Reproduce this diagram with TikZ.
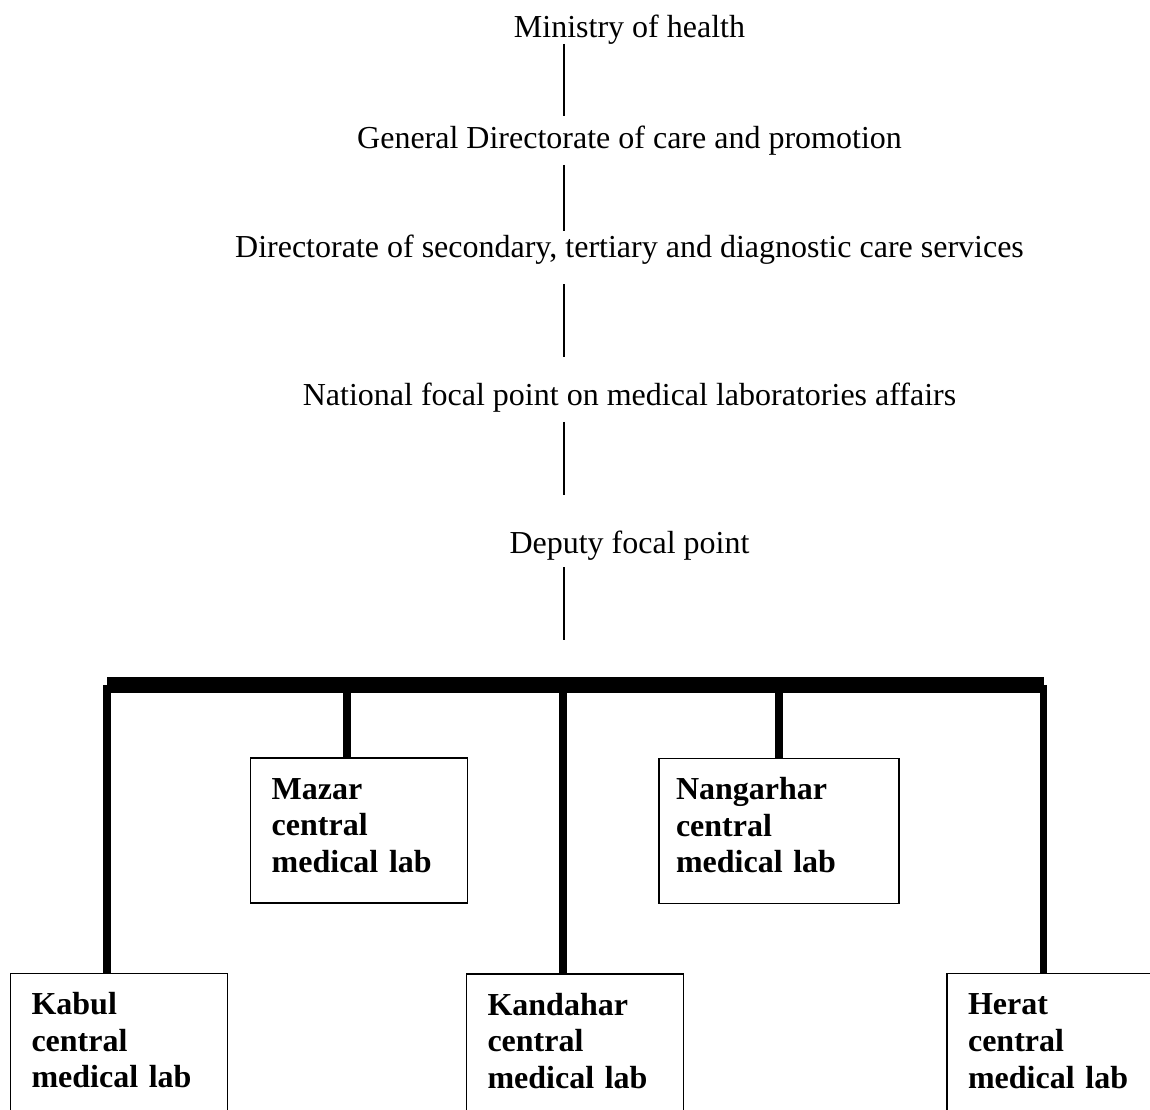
\documentclass[tikz,border=0pt]{standalone}
\usepackage{fontspec}
\setmainfont{Liberation Serif}
\usetikzlibrary{positioning}

\begin{document}
\begin{tikzpicture}[
        x=0.375pt, y=-0.375pt,
        level/.style={inner sep=0pt, anchor=base, font=\fontsize{12}{13.75}\selectfont},
        lab/.style={rectangle, draw, line width=0.5pt, anchor=north, align=left,
                    text width=65.6pt, inner xsep=7.9pt, inner ysep=0pt,
                    text height=15.4pt, text depth=39pt,
                    font=\fontsize{12}{13.75}\selectfont\bfseries},
        link/.style={line width=0.5pt},
        drop/.style={line width=2.9pt},
        bus/.style={line width=5.8pt}
    ]
        \useasboundingbox (0,0) rectangle (1150,1110);
        \clip (0,0) rectangle (1150,1110);

        \node[level] (ministry) at (629.5,37.2) {Ministry of health};
        \node[level] (general) at (629.5,148.7) {General Directorate of care and promotion};
        \node[level] (directorate) at (629.5,257.7) {Directorate of secondary, tertiary and diagnostic care services};
        \node[level] (national) at (629.5,405.6) {National focal point on medical laboratories affairs};
        \node[level] (deputy) at (629.5,553.5) {Deputy focal point};

        \coordinate (spine) at (564,0);
        \coordinate (bus) at (0,685);

        \node[lab] (mazar) at (359.2,757.3) {Mazar\\ central\\ medical lab};
        \node[lab, text width=77.25pt, inner xsep=6.375pt] (nangarhar) at (779,757.7) {Nangarhar\\ central\\ medical lab};
        \node[lab] (kabul) at (119,972.7) {Kabul\\ central\\ medical lab};
        \node[lab] (kandahar) at (575,973.3) {Kandahar\\ central\\ medical lab};
        \node[lab] (herat) at (1055.5,973) {Herat\\ central\\ medical lab};

        \draw[link] ([yshift=-2.55pt]ministry.base -| spine) -- ([yshift=12.26pt]general.base -| spine);
        \draw[link] ([yshift=-6.1pt]general.base -| spine) -- ([yshift=10pt]directorate.base -| spine);
        \draw[link] ([yshift=-9.9pt]directorate.base -| spine) -- ([yshift=18.2pt]national.base -| spine);
        \draw[link] ([yshift=-6.15pt]national.base -| spine) -- ([yshift=21.9pt]deputy.base -| spine);
        \draw[link] ([yshift=-5.1pt]deputy.base -| spine) -- ([yshift=16.9pt]bus -| spine);

        \draw[bus] ([xshift=-4.5pt]kabul.north |- bus) -- ([xshift=-4.5pt]herat.north |- bus);
        \draw[drop] ([xshift=-4.5pt]kabul.north |- bus) -- ([xshift=-4.5pt]kabul.north);
        \draw[drop] ([xshift=-4.5pt]mazar.north |- bus) -- ([xshift=-4.5pt]mazar.north);
        \draw[drop] ([xshift=-4.5pt]kandahar.north |- bus) -- ([xshift=-4.5pt]kandahar.north);
        \draw[drop] (nangarhar.north |- bus) -- (nangarhar.north);
        \draw[drop] ([xshift=-4.5pt]herat.north |- bus) -- ([xshift=-4.5pt]herat.north);
    \end{tikzpicture}
\end{document}
